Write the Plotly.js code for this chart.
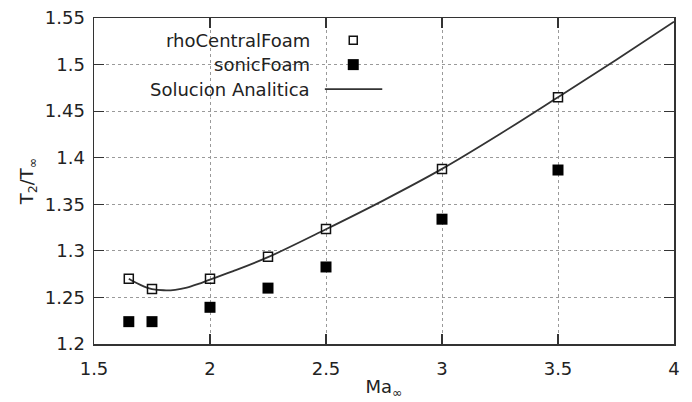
<!DOCTYPE html>
<html>
<head>
<meta charset="utf-8">
<script src="https://cdn.plot.ly/plotly-3.0.1.min.js"></script>
<style>
  html, body { margin: 0; padding: 0; background: #fff; }
  #chart { width: 692px; height: 402px; }
</style>
</head>
<body>
<div id="chart"></div>
<script>
// Mach number of the free stream
const machRho = [1.65, 1.75, 2.0, 2.25, 2.5, 3.0, 3.5];
const rhoCentralFoam = [1.270, 1.259, 1.270, 1.2937, 1.3235, 1.388, 1.465];

const machSonic = [1.65, 1.75, 2.0, 2.25, 2.5, 3.0, 3.5];
const sonicFoam = [1.224, 1.224, 1.2394, 1.260, 1.2827, 1.334, 1.3868];

// Analytical temperature ratio curve
const machAnalytic = [1.65, 1.675, 1.7, 1.725, 1.75, 1.8, 1.85, 1.9, 1.95, 2.0, 2.1, 2.25, 2.5, 2.75, 3.0, 3.25, 3.5, 3.75, 4.0];
const analytic = [1.2700, 1.2665, 1.2635, 1.2608, 1.2590, 1.2577, 1.2582, 1.2605, 1.2645, 1.2692, 1.2782, 1.2932, 1.3232, 1.3545, 1.388, 1.4255, 1.4650, 1.5050, 1.546];

const seriesNames = ['rhoCentralFoam', 'sonicFoam', 'Solucion Analitica'];

const ink = '#222222';
const font = 'DejaVu Sans, sans-serif';

const traces = [
  {
    x: machAnalytic, y: analytic, name: seriesNames[2],
    type: 'scatter', mode: 'lines',
    line: { color: '#333333', width: 1.8, shape: 'spline', smoothing: 1 }
  },
  {
    x: machRho, y: rhoCentralFoam, name: seriesNames[0],
    type: 'scatter', mode: 'markers',
    marker: { symbol: 'square-open', size: 9, color: '#111', line: { width: 1.5, color: '#111' } }
  },
  {
    x: machSonic, y: sonicFoam, name: seriesNames[1],
    type: 'scatter', mode: 'markers',
    marker: { symbol: 'square', size: 11, color: '#000', line: { width: 0 } }
  }
];

const axisCommon = {
  showline: true, linecolor: '#333', linewidth: 1.5,
  mirror: 'ticks', ticks: 'inside', ticklen: 10, tickwidth: 1.2, tickcolor: '#333',
  showgrid: true, gridcolor: '#9a9a9a', griddash: 'dot', gridwidth: 1,
  zeroline: false,
  tickfont: { family: font, size: 18, color: ink }
};

// key rows (paper coordinates), text right aligned with symbol on the right
const keyTextX = 0.375;
const keySymX = 0.447;
const keyRows = [0.932, 0.857, 0.782];

const annotations = seriesNames.map((n, i) => ({
  xref: 'paper', yref: 'paper', x: keyTextX, y: keyRows[i],
  xanchor: 'right', yanchor: 'middle', showarrow: false,
  text: n, font: { family: font, size: 18, color: ink }
}));

const shapes = [
  // opaque key box
  { type: 'rect', layer: 'between', xref: 'paper', yref: 'paper',
    x0: 0.003, x1: 0.514, y0: 0.748, y1: 0.997,
    fillcolor: '#fff', line: { width: 0 } },
  { type: 'rect', xref: 'paper', yref: 'paper',
    xsizemode: 'pixel', ysizemode: 'pixel', xanchor: keySymX, yanchor: keyRows[0],
    x0: -4, x1: 4, y0: -4, y1: 4,
    fillcolor: '#fff', line: { color: '#111', width: 1.5 } },
  { type: 'rect', xref: 'paper', yref: 'paper',
    xsizemode: 'pixel', ysizemode: 'pixel', xanchor: keySymX, yanchor: keyRows[1],
    x0: -5.5, x1: 5.5, y0: -5.5, y1: 5.5,
    fillcolor: '#000', line: { width: 0 } },
  { type: 'line', xref: 'paper', yref: 'paper',
    x0: 0.398, x1: 0.497, y0: keyRows[2], y1: keyRows[2],
    line: { color: '#333', width: 1.8 } }
];

const layout = {
  width: 692, height: 402,
  margin: { l: 94, r: 18, t: 18, b: 58 },
  paper_bgcolor: '#fff', plot_bgcolor: '#fff',
  showlegend: false,
  font: { family: font, color: ink },
  xaxis: Object.assign({}, axisCommon, {
    range: [1.5, 4], dtick: 0.5, tick0: 1.5,
    ticklabelstandoff: 8,
    title: { text: 'Ma<sub>∞</sub>', font: { family: font, size: 18, color: ink }, standoff: 2 }
  }),
  yaxis: Object.assign({}, axisCommon, {
    range: [1.2, 1.55], dtick: 0.05, tick0: 1.2,
    ticklabelstandoff: 4,
    title: { text: 'T<sub>2</sub>/T<sub>∞</sub>', font: { family: font, size: 18, color: ink }, standoff: 6 }
  }),
  annotations: annotations,
  shapes: shapes
};

Plotly.newPlot('chart', traces, layout, { staticPlot: true, displayModeBar: false });
</script>
</body>
</html>
